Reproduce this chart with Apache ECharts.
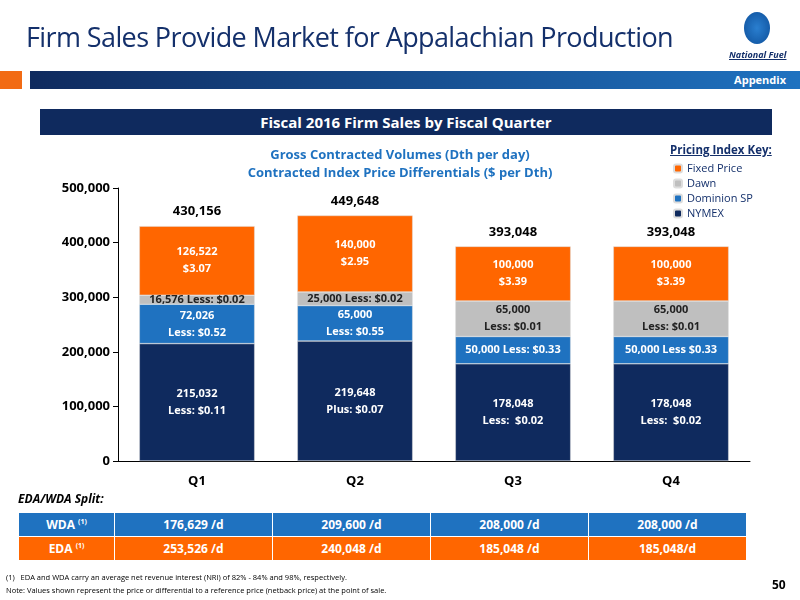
<!DOCTYPE html>
<html><head><meta charset="utf-8">
<script src="https://cdn.jsdelivr.net/npm/echarts@6/dist/echarts.min.js"></script>
<style>
body{margin:0;width:800px;height:600px;position:relative;font-family:'Open Sans',sans-serif;background:#fff;overflow:hidden}
.abs{position:absolute}
#chart{position:absolute;left:0;top:0;width:800px;height:600px}
table{border-collapse:collapse}
td{height:23px;color:#fff;font-weight:bold;font-size:12px;text-align:center;border:1px solid #fff;padding:0}
</style></head><body>
<div id="chart"></div>
<div class="abs" style="left:26px;top:18px;font-size:27px;color:#14306b;letter-spacing:-0.6px">Firm Sales Provide Market for Appalachian Production</div>
<div class="abs" style="left:744px;top:12px;width:26px;height:32px;border-radius:50%;background:radial-gradient(#2a7fd0,#0d4f9a)"></div>
<div class="abs" style="left:729px;top:48px;font-size:9px;font-style:italic;font-weight:bold;color:#14306b;text-decoration:underline">National Fuel</div>
<div class="abs" style="left:0;top:71px;width:22px;height:18px;background:#f26b14"></div>
<div class="abs" style="left:30px;top:71px;width:770px;height:18px;background:linear-gradient(90deg,#0f2a5e,#1f72c0)"></div>
<div class="abs" style="right:14px;top:72px;font-size:11px;font-weight:bold;color:#fff">Appendix</div>
<div class="abs" style="left:40px;top:109px;width:732px;height:26px;background:#0f2a5e;color:#fff;font-weight:bold;font-size:15px;text-align:center;line-height:26px">Fiscal 2016 Firm Sales by Fiscal Quarter</div>
<div class="abs" style="left:180px;top:145px;width:440px;text-align:center;color:#1f72c0;font-weight:bold;font-size:13px;line-height:18px">Gross Contracted Volumes (Dth per day)<br>Contracted Index Price Differentials ($ per Dth)</div>
<div class="abs" style="left:670px;top:142px;font-size:11.5px;font-weight:bold;color:#14306b;text-decoration:underline">Pricing Index Key:</div>
<div class="abs" style="left:18px;top:490px;font-size:12px;font-weight:bold;font-style:italic">EDA/WDA Split:</div>
<table class="abs" style="left:18px;top:512px">
<tr id="wda" style="background:#1f72c0"></tr>
<tr id="eda" style="background:#ff6600"></tr>
</table>
<div class="abs" style="left:6px;top:571px;font-size:7.5px;line-height:13px">(1)&nbsp;&nbsp;&nbsp;EDA and WDA carry an average net revenue interest (NRI) of 82% - 84% and 98%, respectively.<br>Note: Values shown represent the price or differential to a reference price (netback price) at the point of sale.</div>
<div class="abs" style="left:772px;top:576px;font-size:12px;font-weight:bold">50</div>
<script>
const quarters = ['Q1', 'Q2', 'Q3', 'Q4'];
const nymex = [215032, 219648, 178048, 178048];
const dominion = [72026, 65000, 50000, 50000];
const dawn = [16576, 25000, 65000, 65000];
const fixed = [126522, 140000, 100000, 100000];
const totals = [430156, 449648, 393048, 393048];
const nymexLbl = ['215,032\nLess: $0.11', '219,648\nPlus: $0.07', '178,048\nLess:  $0.02', '178,048\nLess:  $0.02'];
const dominionLbl = ['72,026\nLess: $0.52', '65,000\nLess: $0.55', '50,000 Less: $0.33', '50,000 Less $0.33'];
const dawnLbl = ['16,576 Less: $0.02', '25,000 Less: $0.02', '65,000\nLess: $0.01', '65,000\nLess: $0.01'];
const fixedLbl = ['126,522\n$3.07', '140,000\n$2.95', '100,000\n$3.39', '100,000\n$3.39'];
const wdaRow = ['176,629 /d', '209,600 /d', '208,000 /d', '208,000 /d'];
const edaRow = ['253,526 /d', '240,048 /d', '185,048 /d', '185,048/d'];

function row(id, head, vals) {
  let h = '<td style="width:95px">' + head + ' <sup style="font-size:7px">(1)</sup></td>';
  vals.forEach(v => h += '<td style="width:157px">' + v + '</td>');
  document.getElementById(id).innerHTML = h;
}
row('wda', 'WDA', wdaRow);
row('eda', 'EDA', edaRow);

const ch = echarts.init(document.getElementById('chart'));
function seg(name, data, labels, color, txt) {
  return {
    name: name, type: 'bar', stack: 'a', data: data, barWidth: '73%',
    itemStyle: { color: color, borderColor: '#ddd', borderWidth: 0.5 },
    label: { show: true, formatter: p => labels[p.dataIndex], color: txt, fontSize: 11, fontWeight: 'bold', lineHeight: 17 }
  };
}
ch.setOption({
  animation: false,
  textStyle: { fontFamily: 'Open Sans' },
  grid: { left: 118, right: 50, top: 188, bottom: 139 },
  legend: {
    orient: 'vertical', left: 668, top: 158, itemWidth: 8, itemHeight: 8, itemGap: 4,
    textStyle: { fontSize: 11, color: '#14306b' },
    data: ['Fixed Price', 'Dawn', 'Dominion SP', 'NYMEX']
  },
  xAxis: {
    type: 'category', data: quarters,
    axisLine: { lineStyle: { color: '#000' } }, axisTick: { show: false },
    axisLabel: { fontWeight: 'bold', fontSize: 13, color: '#000', margin: 14 }
  },
  yAxis: {
    type: 'value', min: 0, max: 500000, interval: 100000, splitLine: { show: false },
    axisLine: { show: true, lineStyle: { color: '#000' } }, axisTick: { show: true, inside: false },
    axisLabel: { fontWeight: 'bold', fontSize: 13, color: '#000', formatter: v => v.toLocaleString('en-US') }
  },
  series: [
    seg('NYMEX', nymex, nymexLbl, '#0f2a5e', '#fff'),
    seg('Dominion SP', dominion, dominionLbl, '#1f72c0', '#fff'),
    seg('Dawn', dawn, dawnLbl, '#bfbfbf', '#222'),
    seg('Fixed Price', fixed, fixedLbl, '#ff6600', '#fff'),
    {
      name: 'total', type: 'bar', stack: 'a', data: totals.map(() => 0), barWidth: '73%',
      label: { show: true, position: 'top', distance: 8, formatter: p => totals[p.dataIndex].toLocaleString('en-US'), fontWeight: 'bold', fontSize: 13, color: '#000' }
    }
  ]
});
</script>
</body></html>
